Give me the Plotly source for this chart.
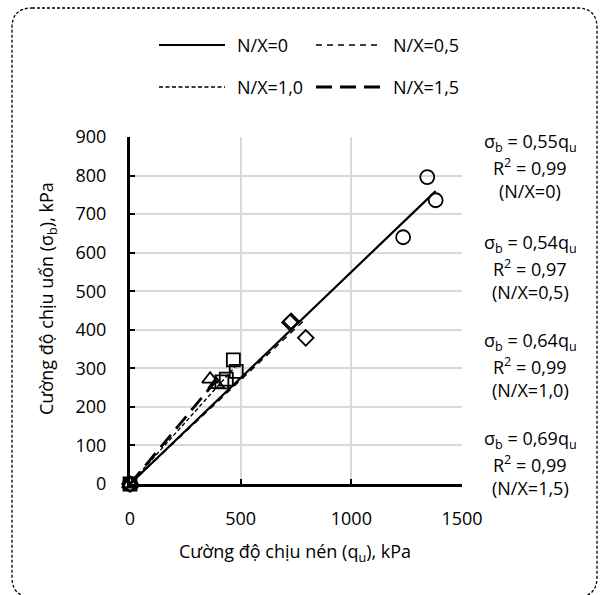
import plotly.graph_objects as go

# Compressive strength q_u (kPa) and flexural strength sigma_b (kPa) per N/X ratio
series_names = ["N/X=0", "N/X=0,5", "N/X=1,0", "N/X=1,5"]
qu_nx0 = [0, 1234, 1343, 1381]
sb_nx0 = [0, 640, 796, 736]
qu_nx05 = [0, 723, 728, 794]
sb_nx05 = [0, 419, 422, 379]
qu_nx10 = [0, 415, 435, 467, 480]
sb_nx10 = [0, 265, 272, 322, 292]
qu_nx15 = [0, 362, 390]
sb_nx15 = [0, 272, 258]

# Fitted slopes (sigma_b = k * q_u) and R^2 of each fit
slopes = [0.55, 0.54, 0.64, 0.69]
r2_values = ["0,99", "0,97", "0,99", "0,99"]
slope_labels = ["0,55", "0,54", "0,64", "0,69"]

x_ticks = [0, 500, 1000, 1500]
y_ticks = [0, 100, 200, 300, 400, 500, 600, 700, 800, 900]

qu_all = [qu_nx0, qu_nx05, qu_nx10, qu_nx15]
sb_all = [sb_nx0, sb_nx05, sb_nx10, sb_nx15]

FONT = "Open Sans"
W, H = 601, 595
L, R, T, B = 130, 139, 137, 111
PW, PH = W - L - R, H - T - B


def px(xpix):
    return (xpix - L) / PW


def py(ypix):
    return (H - B - ypix) / PH


symbols = ["circle-open", "diamond-open", "square-open", "triangle-up-open"]
marker_sizes = [14, 12, 13, 14]
dashes = ["solid", "6px,5px", "4px,2.5px", "16px,8px"]
line_widths = [2.2, 1.5, 1.4, 2.8]

fig = go.Figure()

# Trend lines through the origin up to the largest q_u of each series
for k, qs, dash, lw, name in zip(slopes, qu_all, dashes, line_widths, series_names):
    xmax = max(qs)
    fig.add_trace(go.Scatter(
        x=[0, xmax], y=[0, k * xmax], mode="lines",
        line=dict(color="black", width=lw, dash=dash),
        name=name, showlegend=False, hoverinfo="skip",
    ))

# Measured points
for qs, ss, sym, ms, name in zip(qu_all, sb_all, symbols, marker_sizes, series_names):
    fig.add_trace(go.Scatter(
        x=qs, y=ss, mode="markers",
        marker=dict(symbol=sym, size=ms, color="black", line=dict(color="black", width=1.8)),
        name=name, showlegend=False, cliponaxis=False,
    ))

shapes = []
annotations = []

# Legend drawn as line samples with labels, two rows of two entries
legend_rows = [45, 87]
legend_cols = [(159, 225, 235), (316, 382, 391)]
for i, name in enumerate(series_names):
    row, col = divmod(i, 2)
    x0, x1, xt = legend_cols[col]
    yy = legend_rows[row]
    shapes.append(dict(
        type="line", xref="paper", yref="paper",
        x0=px(x0), x1=px(x1), y0=py(yy), y1=py(yy),
        line=dict(color="black", width=line_widths[i], dash=dashes[i]),
    ))
    annotations.append(dict(
        x=px(xt), y=py(yy), xref="paper", yref="paper", text=name,
        showarrow=False, xanchor="left", yanchor="middle",
        font=dict(family=FONT, size=18, color="black"),
    ))

# Fit equations beside the plot, three lines per series
block_tops = [142, 243, 341, 439]
line_step = 24.5
for lab, r2, name, y0 in zip(slope_labels, r2_values, series_names, block_tops):
    lines = [
        f"σ<sub>b</sub> = {lab}q<sub>u</sub>",
        f"R<sup>2</sup> = {r2}",
        f"({name})",
    ]
    for j, txt in enumerate(lines):
        annotations.append(dict(
            x=px(530), y=py(y0 + j * line_step), xref="paper", yref="paper", text=txt,
            showarrow=False, xanchor="center", yanchor="middle",
            font=dict(family=FONT, size=18, color="black"),
        ))

# Axis titles
annotations.append(dict(
    x=px(47), y=py(299), xref="paper", yref="paper",
    text="Cường độ chịu uốn (σ<sub>b</sub>), kPa", textangle=-90,
    showarrow=False, xanchor="center", yanchor="middle",
    font=dict(family=FONT, size=18, color="black"),
))
annotations.append(dict(
    x=px(295), y=py(552), xref="paper", yref="paper",
    text="Cường độ chịu nén (q<sub>u</sub>), kPa",
    showarrow=False, xanchor="center", yanchor="middle",
    font=dict(family=FONT, size=18, color="black"),
))

# Dashed rounded frame around the whole figure
fx0, fx1, fy0, fy1, rad = 12, 597, 8, 597, 20
X = lambda v: px(v)
Y = lambda v: py(v)
frame_path = (
    f"M {X(fx0 + rad)},{Y(fy0)} L {X(fx1 - rad)},{Y(fy0)} "
    f"Q {X(fx1)},{Y(fy0)} {X(fx1)},{Y(fy0 + rad)} "
    f"L {X(fx1)},{Y(fy1 - rad)} Q {X(fx1)},{Y(fy1)} {X(fx1 - rad)},{Y(fy1)} "
    f"L {X(fx0 + rad)},{Y(fy1)} Q {X(fx0)},{Y(fy1)} {X(fx0)},{Y(fy1 - rad)} "
    f"L {X(fx0)},{Y(fy0 + rad)} Q {X(fx0)},{Y(fy0)} {X(fx0 + rad)},{Y(fy0)} Z"
)
shapes.append(dict(
    type="path", xref="paper", yref="paper", path=frame_path,
    line=dict(color="black", width=1.3, dash="3px,2px"), layer="above",
))

axis_common = dict(
    showline=True, linecolor="black", linewidth=3,
    ticks="inside", ticklen=5, tickwidth=1.5, tickcolor="black",
    showgrid=True, gridcolor="#d9d9d9", gridwidth=1.5,
    zeroline=False, mirror=False,
    tickfont=dict(family=FONT, size=18, color="black"),
)

fig.update_layout(
    width=W, height=H,
    margin=dict(l=L, r=R, t=T, b=B, pad=0),
    paper_bgcolor="white", plot_bgcolor="white",
    showlegend=False,
    xaxis=dict(range=[0, 1500], tickvals=x_ticks, ticklabelstandoff=16, **axis_common),
    yaxis=dict(range=[0, 900], tickvals=y_ticks, ticklabelstandoff=17, **axis_common),
    shapes=shapes,
    annotations=annotations,
    font=dict(family=FONT, size=18, color="black"),
)

fig.write_html("out.html")
